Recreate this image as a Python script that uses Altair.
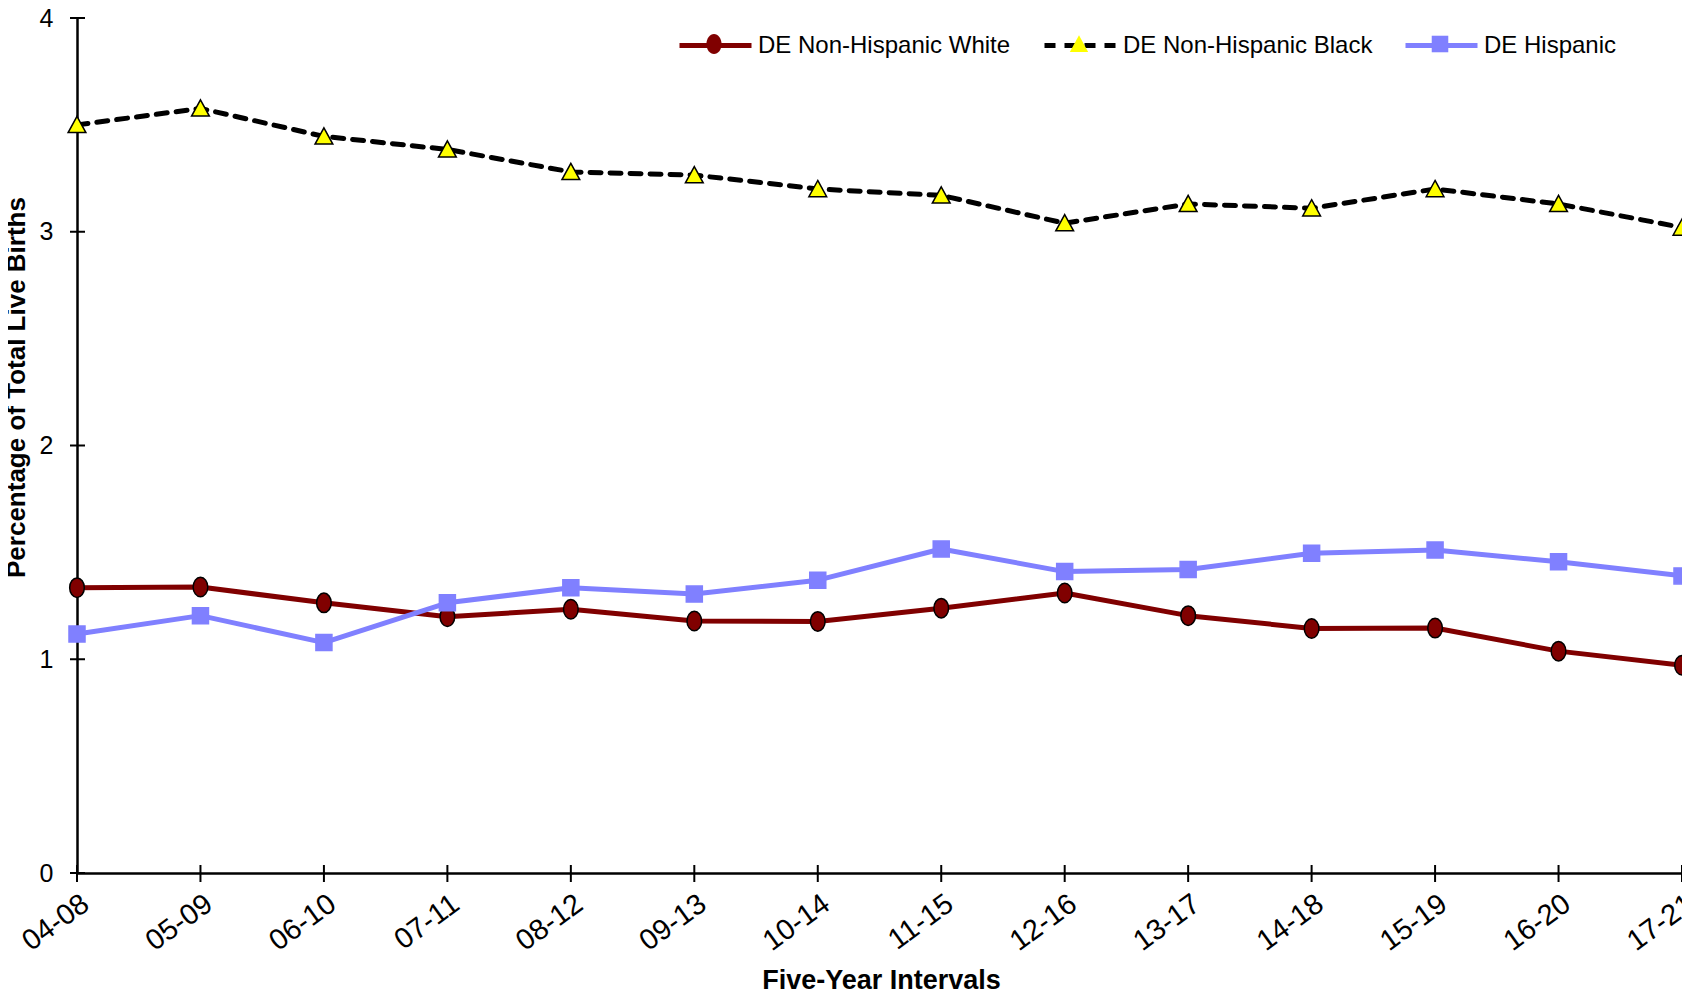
import altair as alt
import pandas as pd

intervals = ["04-08", "05-09", "06-10", "07-11", "08-12", "09-13", "10-14",
             "11-15", "12-16", "13-17", "14-18", "15-19", "16-20", "17-21"]
series = ["DE Non-Hispanic White", "DE Non-Hispanic Black", "DE Hispanic"]
white = [1.335, 1.338, 1.264, 1.199, 1.234, 1.179, 1.177, 1.239, 1.310, 1.204, 1.144, 1.146, 1.038, 0.972]
black = [3.500, 3.577, 3.446, 3.385, 3.280, 3.265, 3.200, 3.170, 3.040, 3.130, 3.110, 3.200, 3.130, 3.020]
hispanic = [1.118, 1.204, 1.078, 1.264, 1.335, 1.305, 1.370, 1.516, 1.410, 1.420, 1.496, 1.511, 1.456, 1.390]
y_ticks = [0, 1, 2, 3, 4]

line_colors = ["#800000", "#000000", "#8080FF"]
fill_colors = ["#800000", "#FFFF00", "#8080FF"]
stroke_colors = ["#000000", "#000000", "#8080FF"]
dashes = [None, [11, 9], None]
# marker paths kept inside the unit box so legend markers share the line-symbol box
shapes = [
    "M0,-0.28 A0.21,0.28 0 1,1 0,0.28 A0.21,0.28 0 1,1 0,-0.28 Z",
    "M0,-0.245 L0.255,0.22 L-0.255,0.22 Z",
    "M-0.23,-0.23 L0.23,-0.23 L0.23,0.23 L-0.23,0.23 Z",
]

rows = []
for name, vals in zip(series, [white, black, hispanic]):
    for iv, v in zip(intervals, vals):
        rows.append({"series": name, "interval": iv, "value": v})
df = pd.DataFrame(rows)
df_yt = pd.DataFrame({"v": y_ticks})
df_xt = pd.DataFrame({"interval": intervals})

FONT = "Liberation Sans"
W, H = 1605, 855
TOP = 10

xscale = alt.Scale(type="point", padding=0, domain=intervals)
yscale = alt.Scale(domain=[0, 4], nice=False)

x_axis = alt.Axis(title="Five-Year Intervals", ticks=False, grid=False,
                  domainColor="black", domainWidth=2.5,
                  labelAngle=-36, labelAlign="right", labelBaseline="top",
                  labelPadding=16, labelFontSize=29, labelFont=FONT, labelColor="black",
                  titleFont=FONT, titleFontSize=27, titleFontWeight="bold", titleColor="black",
                  titleX=804, titleY=107, titleAlign="center", titleBaseline="middle")
y_axis = alt.Axis(title="Percentage of Total Live Births", values=y_ticks, ticks=False, grid=False,
                  domainColor="black", domainWidth=2.5, format="d",
                  labelPadding=24, labelFontSize=25, labelFont=FONT, labelColor="black",
                  labelBaseline="middle",
                  titleFont=FONT, titleFontSize=26, titleFontWeight="bold", titleColor="black",
                  titleAngle=270, titleX=-61, titleY=369, titleAlign="center",
                  titleBaseline="middle")

LEG_XS = [600, 965, 1326]
LEG_Y = -11
SYM = 5184
LW = 5

line_layers = []
point_layers = []
for i, name in enumerate(series):
    sub = df[df["series"] == name]
    mk = dict(strokeWidth=LW, strokeCap="round", strokeJoin="round", color=line_colors[i])
    leg = dict(orient="none", legendX=LEG_XS[i], legendY=LEG_Y, title=None, padding=0,
               symbolType="stroke", symbolSize=SYM, symbolStrokeWidth=LW,
               symbolStrokeColor=line_colors[i],
               labelFont=FONT, labelFontSize=24, labelColor="black", labelOffset=4, labelLimit=500)
    if dashes[i]:
        mk["strokeDash"] = dashes[i]
        leg["symbolDash"] = dashes[i]
    line_layers.append(
        alt.Chart(sub).mark_line(**mk).encode(
            x=alt.X("interval:N", scale=xscale, sort=intervals, axis=x_axis),
            y=alt.Y("value:Q", scale=yscale, axis=y_axis),
            color=alt.Color("series:N", scale=alt.Scale(domain=[name], range=[line_colors[i]]),
                            legend=alt.Legend(**leg)),
        )
    )
    point_layers.append(
        alt.Chart(sub).mark_point(filled=True, size=4850, strokeWidth=1.5, opacity=1,
                                  fill=fill_colors[i], stroke=stroke_colors[i]).encode(
            x=alt.X("interval:N", scale=xscale, sort=intervals, axis=x_axis),
            y=alt.Y("value:Q", scale=yscale, axis=y_axis),
            shape=alt.Shape("series:N", scale=alt.Scale(domain=[name], range=[shapes[i]]),
                            legend=alt.Legend(orient="none", legendX=LEG_XS[i], legendY=LEG_Y,
                                              title=None, padding=0, symbolSize=SYM,
                                              symbolFillColor=fill_colors[i],
                                              symbolStrokeColor=stroke_colors[i],
                                              symbolStrokeWidth=1.5, labelExpr="''",
                                              labelOffset=4, labelFontSize=24)),
        )
    )

ytick_rules = alt.Chart(df_yt).mark_rule(color="black", strokeWidth=2).encode(
    y=alt.Y("v:Q", scale=yscale, axis=y_axis),
    x=alt.value(-7), x2=alt.value(8),
)
xtick_rules = alt.Chart(df_xt).mark_rule(color="black", strokeWidth=2).encode(
    x=alt.X("interval:N", scale=xscale, sort=intervals, axis=x_axis),
    y=alt.value(H - 8), y2=alt.value(H + 9),
)

chart = alt.layer(*line_layers, *point_layers, ytick_rules, xtick_rules).resolve_scale(
    color="independent", shape="independent"
).resolve_legend(
    color="independent", shape="independent"
).properties(
    width=W, height=H,
    autosize=alt.AutoSizeParams(type="none"),
    padding={"left": 69, "top": TOP, "right": 0, "bottom": 122},
).configure(background="white").configure_view(stroke=None)

chart.save("out.html", embed_options={"renderer": "svg", "actions": False})
